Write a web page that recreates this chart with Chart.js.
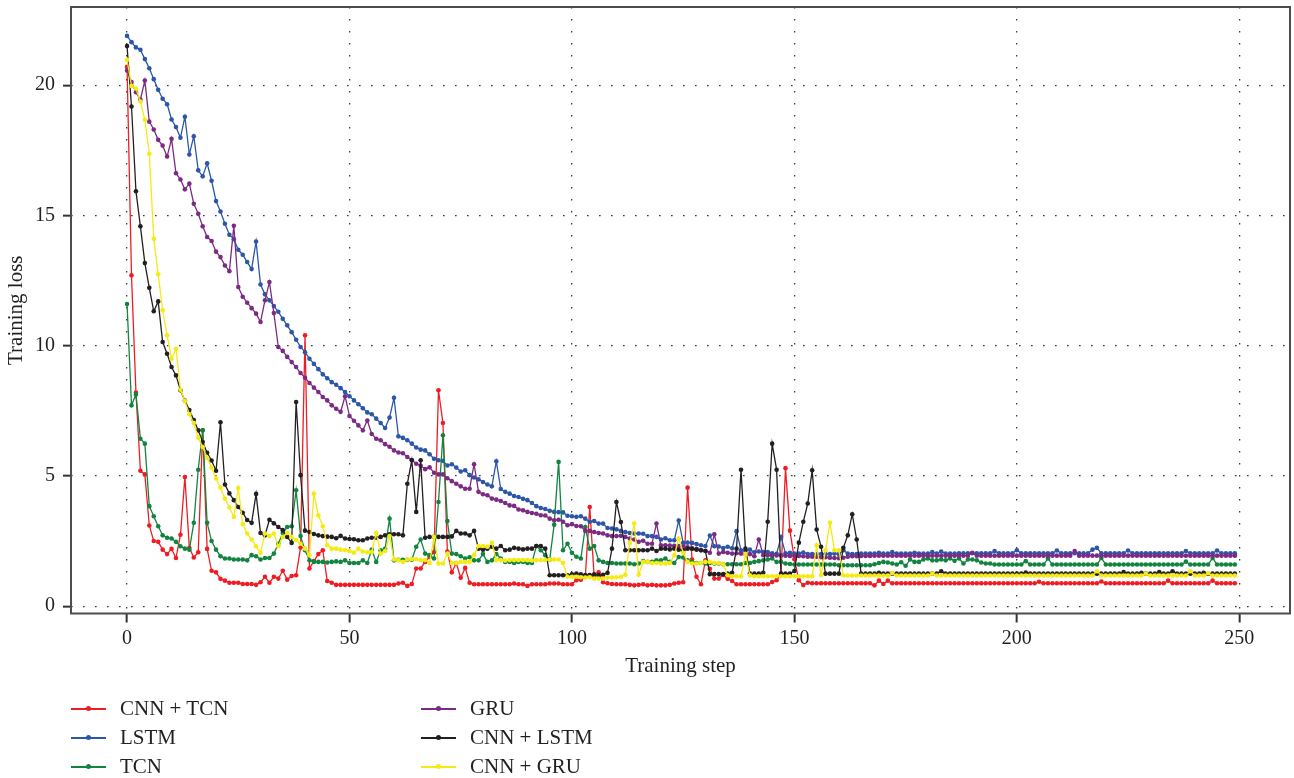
<!DOCTYPE html>
<html>
<head>
<meta charset="utf-8">
<script src="https://cdn.jsdelivr.net/npm/chart.js@4.4.1/dist/chart.umd.min.js"></script>
<style>
  html, body { margin: 0; padding: 0; background: #ffffff; }
  #wrap { position: relative; width: 1294px; height: 778px; overflow: hidden; }
  #c { position: absolute; left: 0; top: 0; }
  .lg { position: absolute; height: 24px; font-family: "Liberation Serif", "DejaVu Serif", serif; font-size: 21px; color: #231f20; white-space: nowrap; }
  .lg .ln { position: absolute; left: 0; top: 11px; width: 35px; height: 2px; }
  .lg .dot { position: absolute; left: 15px; top: 9px; width: 5px; height: 5px; border-radius: 50%; }
  .lg .tx { position: absolute; left: 49px; top: -1px; line-height: 24px; }
</style>
</head>
<body>
<div id="wrap">
  <canvas id="c" width="1294" height="778"></canvas>
</div>
<script>
// ---- data ----
const seriesNames = ["CNN + TCN", "LSTM", "TCN", "GRU", "CNN + LSTM", "CNN + GRU"];
const seriesColors = ["#ee1d24", "#2c56a8", "#12843f", "#7b2b84", "#231f20", "#f5ea14"];
const xTicks = [0, 50, 100, 150, 200, 250];
const yTicks = [0, 5, 10, 15, 20];

const cnnTcn = [
20.7,12.7,8.2,5.2,5.06,3.1,2.5,2.47,2.17,2.0,
2.2,1.85,2.74,4.96,2.24,1.87,2.07,6.75,2.2,1.36,
1.3,1.05,0.98,0.9,0.9,0.9,0.85,0.85,0.85,0.82,
0.92,1.13,0.9,1.13,1.06,1.36,1.02,1.16,1.19,2.25,
10.4,1.45,1.73,2.0,2.15,0.97,0.9,0.82,0.82,0.82,
0.82,0.82,0.82,0.82,0.82,0.82,0.82,0.82,0.82,0.82,
0.82,0.87,0.9,0.78,0.85,1.45,1.45,1.7,1.89,2.08,
8.29,7.03,2.1,1.3,1.66,1.09,1.47,0.9,0.84,0.84,
0.84,0.84,0.84,0.84,0.84,0.84,0.84,0.87,0.84,0.84,
0.78,0.84,0.84,0.84,0.84,0.87,0.87,0.87,0.84,0.84,
0.84,1.0,1.02,1.13,3.81,1.13,1.3,0.92,0.88,0.85,
0.84,0.84,0.84,0.82,0.8,0.82,0.84,0.8,0.82,0.8,
0.8,0.8,0.82,0.87,0.9,0.92,4.55,1.79,1.13,0.84,
1.76,1.44,1.06,1.06,1.2,1.05,0.97,0.84,0.84,0.84,
0.84,0.84,0.84,0.84,0.84,0.93,1.0,1.25,5.3,2.9,
1.8,1.0,0.81,0.9,0.88,0.88,0.88,0.88,0.88,0.88,
0.88,0.88,0.88,0.88,0.88,0.88,0.88,0.88,0.8,0.98,
0.85,0.98,0.88,0.88,0.88,0.88,0.88,0.88,0.88,0.88,
0.88,0.88,0.88,0.88,0.88,0.88,0.88,0.88,0.88,0.88,
0.88,0.88,0.88,0.88,0.88,0.88,0.88,0.88,0.88,0.88,
0.88,0.88,0.88,0.88,0.88,0.94,0.88,0.88,0.88,0.88,
0.88,0.88,0.88,0.88,0.88,0.88,0.88,0.88,0.88,0.95,
0.88,0.88,0.88,0.88,0.88,0.88,0.88,0.88,0.88,0.88,
0.88,0.88,0.88,0.88,0.98,0.88,0.88,0.88,0.88,0.88,
0.88,0.88,0.88,0.88,0.98,0.88,0.88,0.88,0.88,0.88
];

const lstm = [
21.89,21.65,21.45,21.36,21.0,20.65,20.23,19.82,19.48,19.27,
18.68,18.39,17.98,18.79,17.34,18.04,16.73,16.5,17.0,16.33,
15.55,15.15,14.68,14.26,14.09,13.68,13.49,13.21,12.94,14.0,
12.35,11.97,11.74,11.52,11.3,11.03,10.78,10.52,10.23,9.95,
9.75,9.5,9.3,9.1,8.9,8.75,8.6,8.5,8.37,8.22,
8.06,7.9,7.75,7.6,7.44,7.37,7.2,7.03,6.84,7.24,
8.0,6.52,6.46,6.37,6.24,6.09,6.01,5.98,5.83,5.66,
5.6,5.58,5.4,5.45,5.32,5.17,5.22,5.03,4.94,4.87,
4.77,4.67,4.6,5.56,4.5,4.39,4.32,4.23,4.19,4.12,
4.07,3.96,3.84,3.77,3.73,3.66,3.62,3.61,3.6,3.47,
3.45,3.43,3.45,3.36,3.24,3.27,3.17,3.17,3.0,2.98,
2.95,2.89,2.85,2.81,2.79,2.79,2.78,2.69,2.69,2.66,
2.56,2.61,2.53,2.53,3.29,2.43,2.44,2.43,2.39,2.34,
2.31,2.71,2.3,2.29,2.23,2.28,2.22,2.88,2.15,2.12,
2.17,2.07,2.1,2.08,2.08,2.03,2.01,2.66,2.03,2.05,
2.02,2.02,2.06,2.0,2.0,2.0,2.0,2.0,2.0,2.02,
2.0,2.15,2.02,2.0,2.0,2.02,2.02,2.02,2.02,2.05,
2.02,2.02,2.08,2.02,2.02,2.02,2.02,2.05,2.02,2.02,
2.02,2.08,2.02,2.1,2.02,2.02,2.02,2.03,2.03,2.03,
2.03,2.03,2.03,2.03,2.03,2.12,2.03,2.03,2.03,2.03,
2.15,2.03,2.03,2.03,2.03,2.03,2.03,2.03,2.03,2.14,
2.03,2.03,2.03,2.03,2.03,2.03,2.03,2.17,2.24,2.03,
2.03,2.03,2.03,2.03,2.03,2.14,2.03,2.03,2.03,2.03,
2.03,2.03,2.03,2.03,2.03,2.03,2.03,2.03,2.12,2.03,
2.03,2.03,2.03,2.03,2.03,2.14,2.03,2.03,2.03,2.03
];

const tcn = [
11.6,7.71,8.13,6.43,6.24,3.84,3.45,3.07,2.72,2.63,
2.6,2.47,2.3,2.21,2.17,3.2,5.24,6.75,3.2,2.5,
2.17,1.92,1.83,1.83,1.79,1.79,1.79,1.76,1.96,1.92,
1.79,1.85,1.85,2.02,2.4,2.81,3.04,3.07,4.45,2.69,
2.15,1.76,1.7,1.7,1.7,1.68,1.7,1.72,1.7,1.76,
1.66,1.66,1.66,1.76,1.66,2.17,1.7,2.15,2.2,3.36,
1.76,1.78,1.78,1.78,1.78,2.28,2.56,2.02,1.96,1.83,
4.0,6.56,3.27,2.02,2.0,1.92,1.83,1.88,1.76,1.76,
2.0,1.7,1.76,2.0,1.83,1.7,1.7,1.66,1.7,1.7,
1.66,1.66,2.31,2.15,1.96,1.79,3.13,5.54,2.15,2.4,
2.05,1.9,1.83,3.04,2.21,2.31,1.76,1.7,1.66,1.66,
1.64,1.64,1.64,1.64,1.61,1.64,1.73,1.7,1.7,1.76,
1.76,1.83,1.7,1.66,1.89,1.87,1.76,1.7,1.66,1.66,
1.64,1.66,1.64,1.64,1.61,1.61,1.61,1.61,1.61,1.66,
1.66,1.7,1.73,1.76,1.79,1.83,1.7,1.7,1.64,1.62,
1.6,1.6,1.6,1.6,1.6,1.6,1.6,1.6,1.6,1.6,
1.57,1.57,1.57,1.57,1.57,1.57,1.57,1.57,1.61,1.66,
1.7,1.68,1.64,1.6,1.69,1.55,1.79,1.7,1.7,1.79,
1.83,1.76,1.76,1.79,1.76,1.83,1.74,1.83,1.64,1.79,
1.79,1.76,1.68,1.64,1.64,1.6,1.6,1.6,1.6,1.6,
1.6,1.6,1.73,1.6,1.6,1.6,1.6,1.83,1.6,1.6,
1.6,1.6,1.6,1.6,1.6,1.6,1.6,1.6,1.6,1.85,
1.6,1.6,1.6,1.6,1.6,1.6,1.6,1.6,1.6,1.6,
1.6,1.6,1.6,1.6,1.6,1.6,1.6,1.6,1.71,1.6,
1.6,1.6,1.6,1.6,1.85,1.6,1.6,1.6,1.6,1.6
];

const gru = [
20.56,20.12,19.73,19.44,20.18,18.6,18.3,17.9,17.68,17.26,
17.94,16.62,16.38,16.0,16.22,15.45,15.06,14.58,14.17,14.02,
13.61,13.4,13.08,12.86,14.6,12.25,11.88,11.65,11.44,11.23,
10.91,11.74,12.44,11.25,9.95,9.8,9.57,9.37,9.18,8.95,
8.77,8.57,8.39,8.22,8.03,7.9,7.71,7.58,7.46,8.06,
7.3,7.12,6.94,6.75,7.13,6.61,6.43,6.37,6.22,6.12,
5.98,5.9,5.87,5.73,5.61,5.47,5.39,5.26,5.33,5.12,
5.06,5.06,4.91,4.8,4.7,4.6,4.51,4.51,5.45,4.39,
4.3,4.26,4.13,4.09,4.04,3.96,3.87,3.85,3.71,3.68,
3.62,3.58,3.55,3.49,3.48,3.36,3.3,3.32,3.24,3.11,
3.15,3.08,3.07,2.89,2.89,2.85,2.81,2.79,2.72,2.69,
2.69,2.7,2.66,2.6,2.56,2.47,2.51,2.4,2.4,3.17,
2.34,2.34,2.33,2.32,2.31,2.28,2.26,2.21,2.2,2.15,
2.13,2.05,2.76,2.02,2.08,2.05,2.02,2.03,2.02,2.0,
2.0,1.92,2.56,1.96,1.96,1.95,1.95,1.95,1.94,1.93,
1.94,1.93,1.92,1.9,1.9,1.9,1.88,1.88,1.86,1.85,
1.84,1.86,1.9,1.92,1.92,1.93,1.93,1.93,1.94,1.94,
1.94,1.94,1.94,1.94,1.94,1.94,1.94,1.94,1.94,1.94,
1.94,1.94,1.94,1.94,1.94,1.94,1.94,1.94,1.94,1.94,
2.05,1.94,1.94,1.94,1.94,1.94,1.94,1.94,1.94,1.94,
1.94,1.94,1.94,1.94,1.94,1.94,1.94,1.94,1.94,1.94,
1.94,1.94,1.94,2.12,1.94,1.94,1.94,1.94,1.94,1.94,
1.94,1.94,1.94,1.94,1.94,1.94,1.94,1.94,1.94,1.94,
1.94,1.94,1.94,1.94,1.94,1.94,1.94,1.94,1.94,1.94,
1.94,1.94,1.94,1.94,1.94,1.94,1.94,1.94,1.94,1.94
];

const cnnLstm = [
21.5,19.18,15.93,14.58,13.17,12.22,11.32,11.7,10.14,9.69,
9.18,8.86,8.29,7.89,7.53,7.15,6.75,6.3,5.89,5.59,
5.2,7.06,4.67,4.33,4.07,3.81,3.59,3.31,3.2,4.31,
2.81,2.72,3.32,3.18,3.04,2.92,2.66,2.43,7.84,5.03,
2.9,2.85,2.77,2.72,2.69,2.67,2.66,2.61,2.7,2.6,
2.58,2.57,2.53,2.53,2.6,2.63,2.63,2.66,2.72,2.76,
2.76,2.76,2.72,4.7,5.6,3.62,5.6,2.63,2.66,2.66,
2.66,2.66,2.66,2.68,2.89,2.79,2.79,2.72,2.89,2.21,
2.17,2.21,2.28,2.21,2.31,2.15,2.17,2.24,2.21,2.18,
2.21,2.21,2.31,2.31,2.21,1.19,1.19,1.19,1.19,1.19,
1.22,1.25,1.22,1.2,1.2,1.22,1.2,1.21,1.28,2.21,
4.0,3.23,2.15,2.15,2.15,2.15,2.15,2.15,2.21,2.12,
2.21,2.21,2.18,2.21,2.17,2.15,2.21,2.21,2.17,2.15,
2.12,1.23,1.23,1.23,1.23,1.25,1.28,2.21,5.24,2.21,
1.25,1.25,1.25,1.28,3.24,6.24,5.24,1.25,1.25,1.25,
1.35,2.44,3.24,3.94,5.22,2.94,2.28,1.25,1.25,1.25,
1.25,2.24,2.72,3.53,2.56,1.25,1.25,1.25,1.25,1.28,
1.25,1.25,1.25,1.25,1.25,1.25,1.25,1.25,1.25,1.25,
1.25,1.25,1.25,1.34,1.25,1.25,1.25,1.25,1.25,1.25,
1.25,1.25,1.25,1.25,1.25,1.25,1.25,1.25,1.25,1.25,
1.25,1.25,1.29,1.25,1.25,1.25,1.25,1.25,1.25,1.25,
1.25,1.25,1.25,1.25,1.25,1.25,1.25,1.25,1.25,1.25,
1.25,1.25,1.25,1.25,1.31,1.25,1.25,1.25,1.28,1.25,
1.25,1.25,1.31,1.25,1.25,1.34,1.25,1.25,1.25,1.25,
1.25,1.25,1.28,1.25,1.25,1.25,1.25,1.25,1.25,1.25
];

const cnnGru = [
20.97,19.97,19.87,19.37,18.67,17.37,14.1,12.74,11.36,10.4,
9.5,9.88,8.31,7.88,7.37,7.03,6.47,6.11,5.7,5.32,
4.9,4.55,4.13,3.79,3.43,4.54,3.15,2.79,2.56,2.3,
2.05,2.79,2.69,2.79,2.3,2.66,2.81,2.66,2.53,2.4,
2.21,1.96,4.32,3.49,3.07,2.34,2.21,2.21,2.17,2.15,
2.12,2.05,2.21,2.1,2.07,2.08,2.81,2.02,2.12,2.69,
1.79,1.77,1.7,1.79,1.8,1.8,1.77,1.77,1.66,2.66,
1.64,1.64,2.02,1.66,1.66,1.7,1.7,1.7,1.96,2.31,
2.31,2.28,2.43,1.77,1.77,1.75,1.77,1.77,1.77,1.77,
1.77,1.75,1.77,1.77,1.77,1.79,1.79,1.79,1.66,1.13,
1.13,1.13,1.11,1.1,1.11,1.06,1.06,1.06,1.1,1.1,
1.11,1.13,1.21,2.43,3.17,1.21,1.7,1.7,1.66,1.66,
1.64,1.64,1.66,1.96,2.6,2.05,1.7,1.64,1.64,1.66,
1.7,1.7,1.66,1.66,1.61,1.19,1.15,1.15,1.15,2.0,
1.19,1.15,1.15,1.15,1.15,1.15,1.15,1.15,1.15,1.15,
1.15,1.15,1.15,1.15,1.15,2.34,1.2,2.15,3.2,2.15,
2.15,1.18,1.18,1.18,1.18,1.18,1.18,1.18,1.18,1.18,
1.18,1.18,1.27,1.18,1.18,1.18,1.18,1.18,1.18,1.18,
1.18,1.25,1.18,1.18,1.18,1.18,1.18,1.18,1.18,1.18,
1.18,1.18,1.18,1.18,1.18,1.18,1.18,1.18,1.18,1.18,
1.18,1.18,1.18,1.18,1.18,1.18,1.18,1.18,1.18,1.18,
1.18,1.18,1.18,1.18,1.18,1.18,1.18,1.18,1.34,1.18,
1.18,1.18,1.18,1.18,1.18,1.18,1.18,1.18,1.18,1.25,
1.18,1.18,1.18,1.18,1.18,1.18,1.18,1.18,1.18,1.34,
1.18,1.18,1.18,1.27,1.18,1.18,1.18,1.18,1.18,1.18
];

const seriesValues = [cnnTcn, lstm, tcn, gru, cnnLstm, cnnGru];
const steps = cnnTcn.map((_, i) => i);   // training step index

// ---- chart ----
const SERIF = '"Liberation Serif", "DejaVu Serif", serif';
const INK = '#231f20';

const datasets = seriesNames.map((name, i) => ({
  label: name,
  data: seriesValues[i],
  borderColor: seriesColors[i],
  backgroundColor: seriesColors[i],
  pointBackgroundColor: seriesColors[i],
  pointBorderColor: seriesColors[i],
  pointBorderWidth: 0,
  pointRadius: 2.3,
  borderWidth: 1.3,
  tension: 0,
  fill: false,
  order: seriesNames.length - i
}));

const framePlugin = {
  id: 'frame',
  afterDatasetsDraw(chart) {
    const a = chart.chartArea, ctx = chart.ctx;
    ctx.save();
    ctx.strokeStyle = '#4d4d4d';
    ctx.lineWidth = 2;
    ctx.setLineDash([]);
    ctx.strokeRect(a.left, a.top, a.right - a.left, a.bottom - a.top);
    ctx.restore();
  }
};

const gridDash = [1.6, 10.4];
const noPad = s => { s.paddingTop = 0; s.paddingBottom = 0; s.paddingLeft = 0; s.paddingRight = 0; };

new Chart(document.getElementById('c'), {
  type: 'line',
  data: { labels: steps, datasets },
  options: {
    responsive: false,
    devicePixelRatio: 1,
    animation: false,
    events: [],
    layout: { padding: { left: 0, right: 2, top: 7, bottom: 94.5 } },
    plugins: { legend: { display: false }, tooltip: { enabled: false } },
    scales: {
      x: {
        type: 'linear',
        min: -12.6, max: 261.4,
        afterBuildTicks: s => { s.ticks = xTicks.map(v => ({ value: v })); },
        afterFit: s => { s.height = 70; noPad(s); },
        grid: {
          color: '#3a3a3a', lineWidth: 1.3, borderDash: gridDash,
          drawTicks: true, tickLength: 9, tickColor: '#333333', tickWidth: 2, tickBorderDash: []
        },
        border: { display: false, dash: gridDash },
        ticks: {
          autoSkip: false, maxRotation: 0, padding: 4, color: INK,
          font: { family: SERIF, size: 20 }
        },
        title: {
          display: true, text: 'Training step', color: INK,
          font: { family: SERIF, size: 21 }, padding: { top: 4, bottom: 4 }
        }
      },
      y: {
        type: 'linear',
        min: -0.28, max: 23.0,
        afterBuildTicks: s => { s.ticks = yTicks.map(v => ({ value: v })); },
        afterFit: s => { s.width = 71; noPad(s); },
        grid: {
          color: '#3a3a3a', lineWidth: 1.3, borderDash: gridDash,
          drawTicks: true, tickLength: 8, tickColor: '#333333', tickWidth: 2, tickBorderDash: []
        },
        border: { display: false, dash: gridDash },
        ticks: {
          padding: 8, color: INK,
          font: { family: SERIF, size: 20 }
        },
        title: {
          display: true, text: 'Training loss', color: INK,
          font: { family: SERIF, size: 21 }, padding: { top: 4, bottom: 4 }
        }
      }
    }
  },
  plugins: [framePlugin]
});

// ---- legend (two columns, three rows) ----
const wrap = document.getElementById('wrap');
const legendCols = [71, 421];
const legendRows = [697, 726, 755];
seriesNames.forEach((name, i) => {
  const col = Math.floor(i / 3), row = i % 3;
  const d = document.createElement('div');
  d.className = 'lg';
  d.style.left = legendCols[col] + 'px';
  d.style.top = legendRows[row] + 'px';
  d.innerHTML = '<span class="ln" style="background:' + seriesColors[i] + '"></span>' +
                '<span class="dot" style="background:' + seriesColors[i] + '"></span>' +
                '<span class="tx">' + name + '</span>';
  wrap.appendChild(d);
});
</script>
</body>
</html>
